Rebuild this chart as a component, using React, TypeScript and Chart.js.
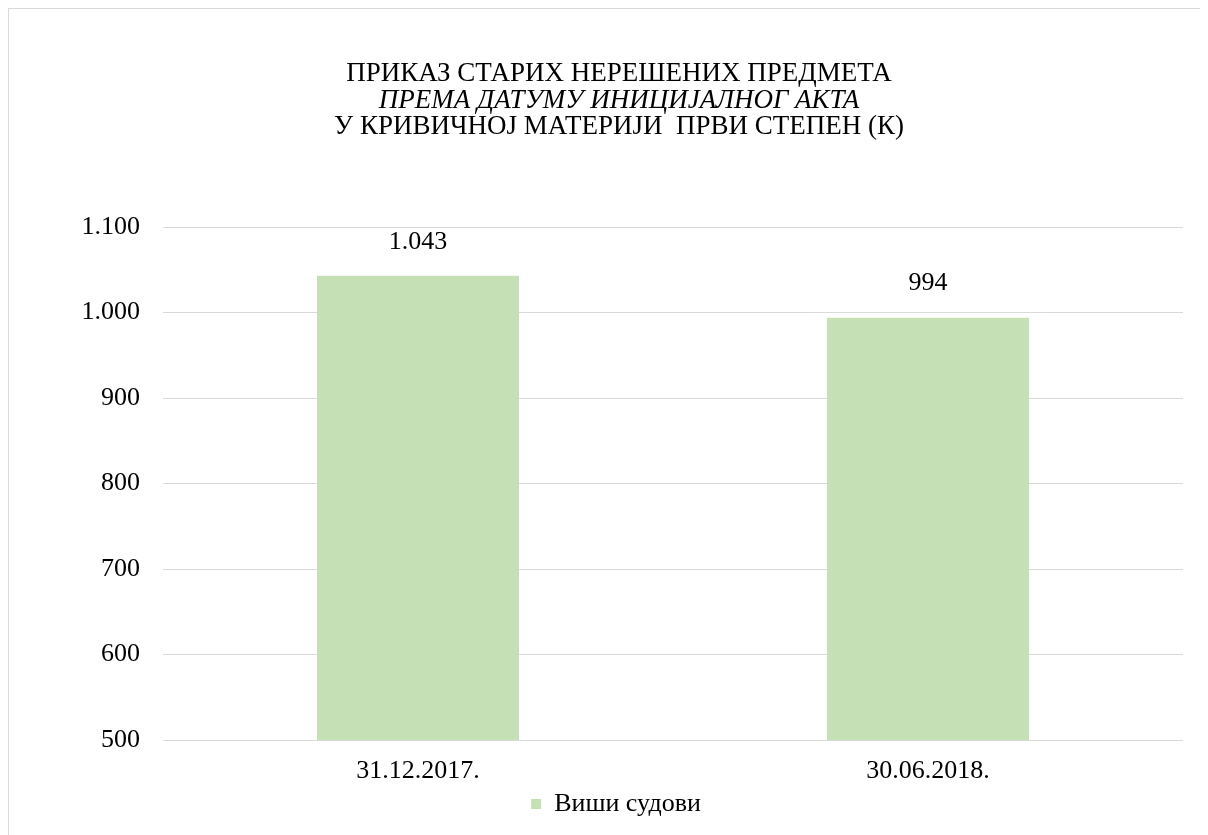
import React, { useEffect, useRef } from "react";
import { Chart, registerables } from "chart.js";

Chart.register(...registerables);

const titleLines = [
  "ПРИКАЗ СТАРИХ НЕРЕШЕНИХ ПРЕДМЕТА",
  "ПРЕМА ДАТУМУ ИНИЦИЈАЛНОГ АКТА",
  "У КРИВИЧНОЈ МАТЕРИЈИ  ПРВИ СТЕПЕН (К)",
];
const categories = ["31.12.2017.", "30.06.2018."];
const seriesName = "Виши судови";
const seriesValues = [1043, 994];
const yMin = 500;
const yMax = 1100;
const yStep = 100;

const FONT = "'Liberation Serif', 'Times New Roman', serif";
const BAR_COLOR = "#c5e0b4";
const GRID_COLOR = "#d9d9d9";
const TEXT_COLOR = "#000000";

const fmt = (v: number) =>
  String(Math.round(v)).replace(/\B(?=(\d{3})+(?!\d))/g, ".");

const titlePlugin = {
  id: "customTitle",
  afterDraw(chart: any) {
    const ctx = chart.ctx;
    ctx.save();
    ctx.fillStyle = TEXT_COLOR;
    ctx.textAlign = "center";
    ctx.textBaseline = "middle";
    const cx = 610;
    const ys = [65, 92, 118];
    titleLines.forEach((line, i) => {
      ctx.font = (i === 1 ? "italic " : "") + "27px " + FONT;
      ctx.fillText(line, cx, ys[i]);
    });
    ctx.restore();
  },
};

const valueLabelPlugin = {
  id: "valueLabels",
  afterDatasetsDraw(chart: any) {
    const ctx = chart.ctx;
    ctx.save();
    ctx.fillStyle = TEXT_COLOR;
    ctx.font = "26px " + FONT;
    ctx.textAlign = "center";
    ctx.textBaseline = "middle";
    chart.data.datasets.forEach((ds: any, di: number) => {
      const meta = chart.getDatasetMeta(di);
      meta.data.forEach((bar: any, i: number) => {
        ctx.fillText(fmt(ds.data[i]), bar.x, bar.y - 34);
      });
    });
    ctx.restore();
  },
};

export default function App() {
  const ref = useRef<HTMLCanvasElement | null>(null);

  useEffect(() => {
    const prev = document.documentElement.style.overflow;
    document.documentElement.style.overflow = "hidden";
    if (!ref.current) return;
    const chart = new Chart(ref.current, {
      type: "bar",
      data: {
        labels: categories,
        datasets: [
          {
            label: seriesName,
            data: seriesValues,
            backgroundColor: BAR_COLOR,
            borderWidth: 0,
            categoryPercentage: 1,
            barPercentage: 0.396,
          },
        ],
      },
      options: {
        responsive: false,
        animation: false,
        layout: { padding: { top: 218, right: 17, bottom: 0, left: 40 } },
        plugins: {
          title: { display: false },
          tooltip: { enabled: false },
          legend: {
            display: true,
            position: "bottom",
            labels: {
              boxWidth: 10,
              boxHeight: 10,
              padding: 10,
              color: TEXT_COLOR,
              font: { family: FONT, size: 26 },
            },
          },
        },
        scales: {
          x: {
            grid: { display: false },
            border: { display: false },
            ticks: {
              color: TEXT_COLOR,
              font: { family: FONT, size: 26 },
              padding: 8,
              maxRotation: 0,
            },
            afterFit(scale: any) {
              scale.height = 41;
            },
          },
          y: {
            min: yMin,
            max: yMax,
            grid: { color: GRID_COLOR, lineWidth: 1, drawTicks: false },
            border: { display: false },
            ticks: {
              stepSize: yStep,
              color: TEXT_COLOR,
              font: { family: FONT, size: 26 },
              padding: 23,
              callback: (v: any) => fmt(Number(v)),
            },
            afterFit(scale: any) {
              scale.width = 114;
            },
          },
        },
      },
      plugins: [titlePlugin, valueLabelPlugin],
    });
    return () => {
      chart.destroy();
      document.documentElement.style.overflow = prev;
    };
  }, []);

  return (
    <div
      style={{
        width: 1240,
        height: 860,
        borderLeft: "1px solid #d9d9d9",
        borderTop: "1px solid #d9d9d9",
        background: "#ffffff",
      }}
    >
      <canvas ref={ref} width={1191} height={818} style={{ display: "block" }} />
    </div>
  );
}
